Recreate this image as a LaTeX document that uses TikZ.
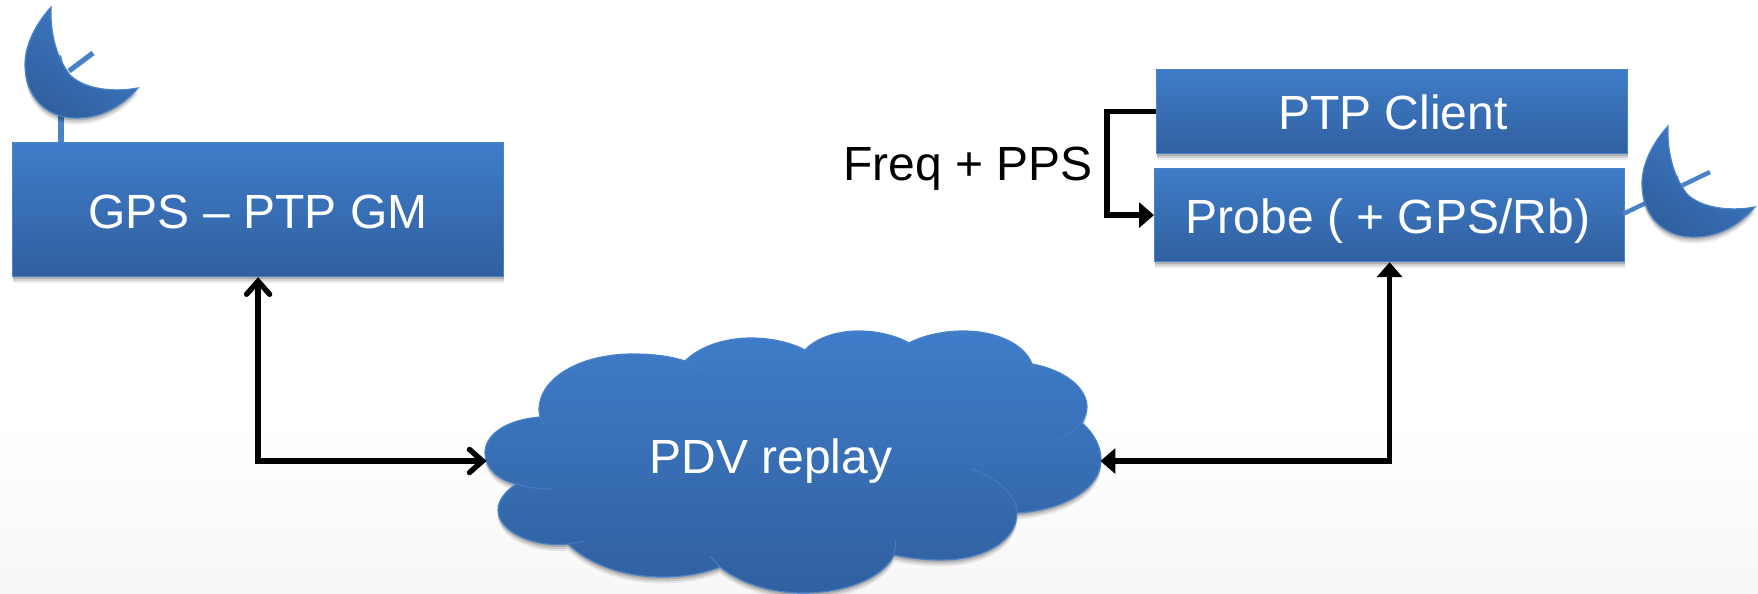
\documentclass[tikz,border=0pt]{standalone}
\usepackage{fontspec}
\setmainfont{Liberation Sans}
\usetikzlibrary{arrows.meta}
\definecolor{blueT}{HTML}{3F7CC9}
\definecolor{blueB}{HTML}{30609F}
\definecolor{blueL}{HTML}{4A82C8}
\tikzset{
  x=0.5pt,y=-0.5pt,
  softshadow/.style={
    preaction={fill=black,opacity=.08,transform canvas={yshift=-3.2pt}},
    preaction={fill=black,opacity=.11,transform canvas={yshift=-2.2pt}},
    preaction={fill=black,opacity=.15,transform canvas={yshift=-1.2pt}}},
  bluefill/.style={softshadow,top color=blueT,bottom color=blueB,draw=blueL,line width=0.6pt},
  boxnode/.style={bluefill,rectangle,inner sep=0pt,text=white,anchor=north west},
  txt/.style={font=\fontsize{24}{29}\selectfont,inner sep=0pt,anchor=base},
  link/.style={line width=2.7pt,line join=miter,black},
  bitip/.style={{Straight Barb[length=6.5pt,width=11.5pt,line cap=round]}-{Straight Barb[length=6.5pt,width=11.5pt,line cap=round]}},
  bisolid/.style={{Triangle[length=7.5pt,width=12.5pt]}-{Triangle[length=7.5pt,width=12.5pt]}},
  solidtip/.style={-{Triangle[length=7.5pt,width=12.5pt]}},
  seam/.style={draw=blueL!85!blueB,line width=0.5pt,line cap=round},
  arm/.style={draw=blueL,line width=2.6pt},
  dish/.pic={
    \path[bluefill,shading angle=-35]
      (51,7) .. controls (50,35) and (57,58) .. (70,75)
      .. controls (83,88) and (110,93) .. (138,88)
      .. controls (120,108) and (100,118) .. (76,118)
      .. controls (45,118) and (25,95) .. (25,65)
      .. controls (25,45) and (35,25) .. (51,7) -- cycle;
  }
}
\begin{document}
\begin{tikzpicture}
\useasboundingbox (0,0) rectangle (1758,594);
\fill[white] (0,0) rectangle (1758,594);
\shade[top color=white,bottom color=black!3,shading angle=0] (0,420) rectangle (1758,594);

% left antenna supports
\draw[arm] (61,116) -- (61,143);
\draw[arm] (69,71) -- (93,53);

% boxes
\node[boxnode,minimum width=245.5pt,minimum height=67pt] (gm) at (12,142) {};
\node[boxnode,minimum width=235.5pt,minimum height=42pt] (client) at (1156,69) {};
\node[boxnode,minimum width=235pt,minimum height=46.5pt] (probe) at (1154,168) {};

% right antenna arm, behind its dish
\draw[arm,line width=2.2pt] (1623,214) -- (1710,172);

% dishes
\fill[blueL] (58,56) -- (61,55) -- (63,64) -- (60,62) -- cycle;
\pic at (0,0) {dish};
\fill[blueL] (1675,175) -- (1678,176) -- (1679,182) -- cycle;
\pic at (1617,119) {dish};

% cloud
\path[bluefill]
  (540,417) .. controls (505,420) and (485,435) .. (485,453)
  .. controls (485,468) and (498,480) .. (516,484)
  .. controls (505,492) and (498,500) .. (498,510)
  .. controls (498,532) and (535,548) .. (568,544)
  .. controls (590,565) and (625,577) .. (662,577)
  .. controls (685,577) and (705,573) .. (720,567)
  .. controls (740,583) and (770,593) .. (803,593)
  .. controls (850,593) and (885,575) .. (894,555)
  .. controls (908,558) and (925,560) .. (941,560)
  .. controls (985,560) and (1017,540) .. (1017,513)
  .. controls (1065,510) and (1101,488) .. (1101,460)
  .. controls (1101,447) and (1094,433) .. (1082,423)
  .. controls (1085,417) and (1087,412) .. (1087,407)
  .. controls (1087,388) and (1065,370) .. (1032,364)
  .. controls (1025,345) and (998,331) .. (963,331)
  .. controls (942,331) and (922,336) .. (909,343)
  .. controls (897,336) and (878,331) .. (859,331)
  .. controls (835,331) and (815,339) .. (805,350)
  .. controls (792,343) and (772,338) .. (751,338)
  .. controls (722,338) and (698,348) .. (685,361)
  .. controls (670,356) and (652,354) .. (633,354)
  .. controls (580,354) and (539,378) .. (539,410) -- cycle;
\draw[seam] (685,361) -- (705,371);
\draw[seam] (805,350) -- (800,360);
\draw[seam] (909,343) -- (898,355);
\draw[seam] (1032,364) -- (1033,372);
\draw[seam] (1082,423) .. controls (1075,430) and (1066,436) .. (1058,440);
\draw[seam] (971,469) .. controls (1000,480) and (1017,495) .. (1017,513);
\draw[seam] (894,555) -- (896,540);
\draw[seam] (720,567) -- (710,556);
\draw[seam] (568,544) -- (585,541);
\draw[seam] (516,484) .. controls (528,488) and (540,489) .. (552,489);
\draw[seam] (540,417) -- (545,426);
\node[minimum width=306.5pt,minimum height=80pt,inner sep=0pt] (cloud) at (793.5,461) {};

% labels
\node[txt,text=white] (gmtext) at (258,228) {GPS – PTP GM};
\node[txt,text=white] (clienttext) at (1393,129) {PTP Client};
\node[txt,text=white] (probetext) at (1388,233) {Probe ( + GPS/Rb)};
\node[txt,text=white] (cloudtext) at (771,473) {PDV replay};
\node[txt,text=black] (freq) at (968,180) {Freq + PPS};

% connectors
\draw[link,bitip] (gm.south) |- (cloud.west);
\draw[link,bisolid] (probe.south) |- (cloud.east);
\draw[link,solidtip] (client.west) -- ++(-49,0) |- (probe.west);
\end{tikzpicture}
\end{document}
